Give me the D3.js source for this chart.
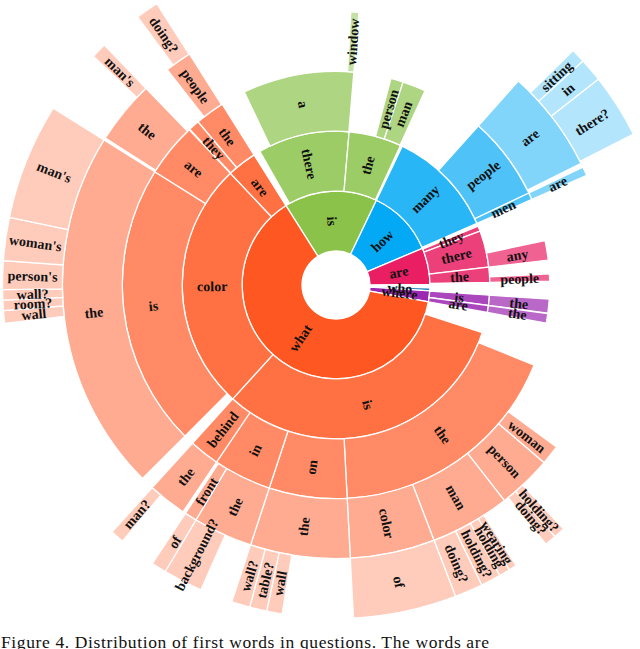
<!DOCTYPE html>
<html>
<head>
<meta charset="utf-8">
<script src="https://cdn.jsdelivr.net/npm/d3@7"></script>
<style>
  html, body { margin: 0; padding: 0; background: #fff; }
  svg { display: block; }
</style>
</head>
<body>
<svg id="chart" width="640" height="649"></svg>
<script>
// ---- DATA (arc sizes in degrees; "~" entries are the white "other words" areas) ----
const firstWordOrder = ["is", "how", "are", "~r1", "who", "where", "what"];
const rootGaps = [["~r1", 2.1]];

const isBranch = [
  ["is", 0],
  ["is/~1", 2.5],
  ["is/there", 0],
  ["is/there/~1", 4.3],
  ["is/there/a", 0],
  ["is/there/a/~1", 28.5],
  ["is/there/a/window", 1.7],
  ["is/there/~2", 0.1],
  ["is/the", 0],
  ["is/the/~1", 10.0],
  ["is/the/person", 3.4],
  ["is/the/man", 6.3],
  ["is/the/~2", 0.2],
  ["is/~2", 0.7]
];

const howBranch = [
  ["how", 0],
  ["how/many", 0],
  ["how/many/~1", 16.3],
  ["how/many/people", 0],
  ["how/many/people/are", 0],
  ["how/many/people/are/~1", 3.5],
  ["how/many/people/are/sitting", 2.5],
  ["how/many/people/are/in", 4.1],
  ["how/many/people/are/there?", 11.2],
  ["how/many/people/are/~2", 0.5],
  ["how/many/people/~1", 0.9],
  ["how/many/men", 0],
  ["how/many/men/are", 1.9],
  ["how/~1", 0.6]
];

const areBranch = [
  ["are", 0],
  ["are/~1", 0.5],
  ["are/they", 2.0],
  ["are/there", 0],
  ["are/there/~1", 8.5],
  ["are/there/any", 5.3],
  ["are/the", 0],
  ["are/the/~1", 3.7],
  ["are/the/people", 2.0],
  ["are/~2", 0.7]
];

const whoBranch = [
  ["who", 1.8]
];

const whereBranch = [
  ["where", 0],
  ["where/~1", 0.2],
  ["where/is", 0],
  ["where/is/the", 3.8],
  ["where/~2", 0.1],
  ["where/are", 0],
  ["where/are/the", 2.6]
];

const whatBranch = [
  ["what", 0],
  ["what/~1", 7.7],
  ["what/is", 0],
  ["what/is/~1", 4.0],
  ["what/is/the", 0],
  ["what/is/the/~1", 14.3],
  ["what/is/the/woman", 4.2],
  ["what/is/the/person", 0],
  ["what/is/the/person/~1", 6.5],
  ["what/is/the/person/holding?", 2.0],
  ["what/is/the/person/doing?", 2.0],
  ["what/is/the/person/~2", 1.0],
  ["what/is/the/man", 0],
  ["what/is/the/man/~1", 5.3],
  ["what/is/the/man/wearing", 1.4],
  ["what/is/the/man/holding", 1.9],
  ["what/is/the/man/holding?", 3.5],
  ["what/is/the/man/doing?", 4.9],
  ["what/is/the/color", 0],
  ["what/is/the/color/of", 18.0],
  ["what/is/on", 0],
  ["what/is/on/the", 0],
  ["what/is/on/the/~1", 12.3],
  ["what/is/on/the/wall", 2.7],
  ["what/is/on/the/table?", 3.0],
  ["what/is/on/the/wall?", 3.2],
  ["what/is/in", 0],
  ["what/is/in/the", 0],
  ["what/is/in/the/~1", 5.7],
  ["what/is/in/the/background?", 6.9],
  ["what/is/in/front", 0],
  ["what/is/in/front/of", 2.6],
  ["what/is/in/~1", 0.6],
  ["what/is/behind", 0],
  ["what/is/behind/the", 0],
  ["what/is/behind/the/~1", 5.8],
  ["what/is/behind/the/man?", 2.4],
  ["what/color", 0],
  ["what/color/~1", 2.8],
  ["what/color/is", 0],
  ["what/color/is/the", 0],
  ["what/color/is/the/~1", 38.4],
  ["what/color/is/the/wall", 2.2],
  ["what/color/is/the/room?", 1.8],
  ["what/color/is/the/wall?", 1.8],
  ["what/color/is/the/person's", 5.0],
  ["what/color/is/the/woman's", 7.5],
  ["what/color/is/the/man's", 20.3],
  ["what/color/are", 0],
  ["what/color/are/~1", 0.5],
  ["what/color/are/the", 0],
  ["what/color/are/the/~1", 10.8],
  ["what/color/are/the/man's", 2.7],
  ["what/color/are/~2", 0.6],
  ["what/are", 0],
  ["what/are/~1", 0.2],
  ["what/are/they", 3.0],
  ["what/are/the", 0],
  ["what/are/the/~1", 2.1],
  ["what/are/the/people", 0],
  ["what/are/the/people/~1", 1.6],
  ["what/are/the/people/doing?", 4.0],
  ["what/are/the/people/~2", 0.1],
  ["what/are/the/~2", 0.2]
];

// colour ramps per first word, from centre outwards
const palettes = {
  what:  ["#FF5722", "#FF7043", "#FF8A65", "#FFAB91", "#FFCCBC"],
  is:    ["#8BC34A", "#9CCC65", "#AED581", "#C5E1A5", "#DCEDC8"],
  how:   ["#03A9F4", "#29B6F6", "#4FC3F7", "#81D4FA", "#B3E5FC"],
  are:   ["#E91E63", "#EC407A", "#F06292", "#F48FB1", "#F8BBD0"],
  who:   ["#2A8CC0", "#4FA3D1", "#7FBDE0", "#AFD6EE", "#DCEEF8"],
  where: ["#9C27B0", "#AB47BC", "#BA68C8", "#CE93D8", "#E1BEE7"]
};

const startDeg = -32.2;          // where the first word ("is") begins, clockwise from north
const captionText = "Figure 4. Distribution of first words in questions. The words are";

// ---- BUILD ----
const branches = { is: isBranch, how: howBranch, are: areBranch, who: whoBranch, where: whereBranch, what: whatBranch };
const rows = [["(root)", 0]];
firstWordOrder.forEach(w => {
  if (branches[w]) rows.push(...branches[w]);
  else rows.push(...rootGaps.filter(g => g[0] === w));
});

const strat = d3.stratify()
  .id(d => d[0])
  .parentId(d => d[0] === "(root)" ? null : (d[0].includes("/") ? d[0].slice(0, d[0].lastIndexOf("/")) : "(root)"));

const root = strat(rows).sum(d => d[1]);
d3.partition().size([1, 6])(root);

const angle = d3.scaleLinear().domain([0, 1])
  .range([startDeg * Math.PI / 180, startDeg * Math.PI / 180 + 2 * Math.PI]);
const radius = d3.scaleLinear().domain([1, 6]).range([34, 333.5]);

const arc = d3.arc()
  .startAngle(d => angle(d.x0))
  .endAngle(d => angle(d.x1))
  .innerRadius(d => radius(d.y0))
  .outerRadius(d => radius(d.y1));

const nameOf = d => d.id.split("/").pop();
const isGap = d => nameOf(d).startsWith("~");

const nodes = root.descendants().filter(d => d.depth > 0 && !isGap(d) && !d.ancestors().some(a => a.depth > 0 && isGap(a)));

const svg = d3.select("#chart");
const g = svg.append("g").attr("transform", "translate(336,285)");

g.selectAll("path.seg")
  .data(nodes)
  .join("path")
  .attr("class", "seg")
  .attr("d", arc)
  .attr("fill", d => palettes[d.id.split("/")[0]][d.depth - 1])
  .attr("stroke", "#fff")
  .attr("stroke-width", 1.3);

g.selectAll("text.lbl")
  .data(nodes)
  .join("text")
  .attr("class", "lbl")
  .attr("transform", d => {
    let a = (((d.x0 + d.x1) / 2) * 360 + startDeg) % 360;
    if (a < 0) a += 360;
    const r = (radius(d.y0) + radius(d.y1)) / 2;
    return `rotate(${a - 90}) translate(${r},0) rotate(${a < 180 ? 0 : 180})`;
  })
  .attr("text-anchor", "middle")
  .attr("dy", "0.35em")
  .attr("font-family", "'Liberation Serif', 'Times New Roman', serif")
  .attr("font-weight", "bold")
  .attr("font-size", 14)
  .attr("fill", "#111")
  .text(nameOf);

svg.append("text")
  .attr("x", 1)
  .attr("y", 648)
  .attr("font-family", "'Liberation Serif', 'Times New Roman', serif")
  .attr("font-size", 17.5)
  .attr("textLength", 488)
  .attr("lengthAdjust", "spacing")
  .attr("fill", "#111")
  .text(captionText);
</script>
</body>
</html>
